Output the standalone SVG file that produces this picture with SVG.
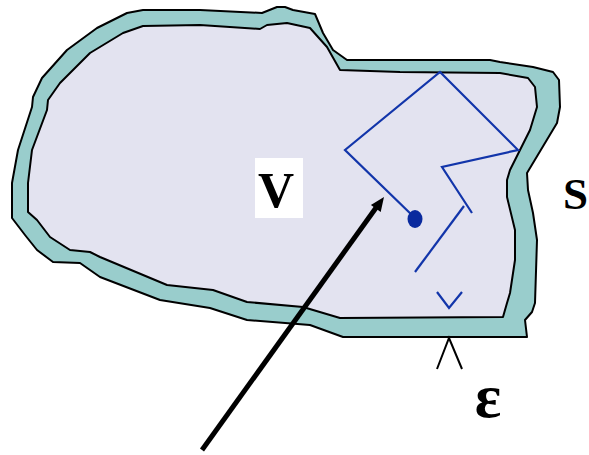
<svg xmlns="http://www.w3.org/2000/svg" width="589" height="455" viewBox="0 0 589 455">
<style>
.edge{fill:none;stroke:#000;stroke-width:2;stroke-linejoin:round}
.walk{fill:none;stroke:#1235aa;stroke-width:2.2;stroke-linecap:butt;stroke-linejoin:miter}
.lbl{font-family:"Liberation Serif","Times New Roman",serif;font-weight:bold;fill:#000}
</style>
<rect width="589" height="455" fill="#fff"/>
<g id="surface">
<path fill="#99cdcc" stroke="#000" stroke-width="2" stroke-linejoin="round" d="M143,10 L200,10 L262,13 L267,11 L277,7 L285,7 L293,10 L315,14 L323,33 L333,50 L347,60 L490,60 L500,62 L533,67 L553,72 L559,80 L560,107 L557,123 L527,173 L528,190 L533,213 L537,240 L535,303 L532,312 L525,320 L527,337 L343,337 L310,325 L247,320 L210,308 L160,300 L100,277 L80,263 L53,262 L37,250 L25,235 L12,218 L12,183 L18,150 L32,107 L33,97 L42,78 L67,50 L97,28 L127,13 Z"/>
</g>
<g id="volume">
<path fill="#e3e3f0" stroke="#000" stroke-width="2" stroke-linejoin="round" d="M143,26 L200,25 L260,29 L267,25 L287,23 L310,28 L327,47 L340,70 L400,72 L500,73 L528,78 L535,87 L537,107 L530,130 L510,170 L507,180 L507,197 L515,230 L515,260 L510,293 L507,303 L503,317 L340,318 L303,307 L247,302 L213,290 L167,285 L100,257 L90,252 L70,250 L50,237 L37,220 L28,212 L28,183 L32,150 L47,110 L48,100 L60,83 L90,53 L123,33 Z"/>
</g>
<g id="walk">
<polyline class="walk" points="415,218 345,150 440,72 518,150 442,167 472,213"/>
<line class="walk" x1="464" y1="206" x2="415" y2="272"/>
<polyline class="walk" points="437,292 449,308 462,292"/>
<ellipse cx="415" cy="219" rx="7.5" ry="9" fill="#0a2a9e"/>
</g>
<g id="label-V">
<rect x="255" y="158" width="48" height="60" fill="#fff"/>
<text class="lbl" x="276" y="207" font-size="50" text-anchor="middle">V</text>
</g>
<g id="label-S">
<text class="lbl" x="563" y="209" font-size="45">S</text>
</g>
<g id="label-eps">
<polyline fill="none" stroke="#000" stroke-width="2" points="437,369 449,338 462,369"/>
<text class="lbl" x="488" y="417" font-size="62" text-anchor="middle">ε</text>
</g>
<g id="connectors">
<line x1="202" y1="450" x2="378" y2="205" stroke="#000" stroke-width="5"/>
<polygon points="384,197 370.9,204.9 380.7,211.9" fill="#000"/>
</g>
</svg>
